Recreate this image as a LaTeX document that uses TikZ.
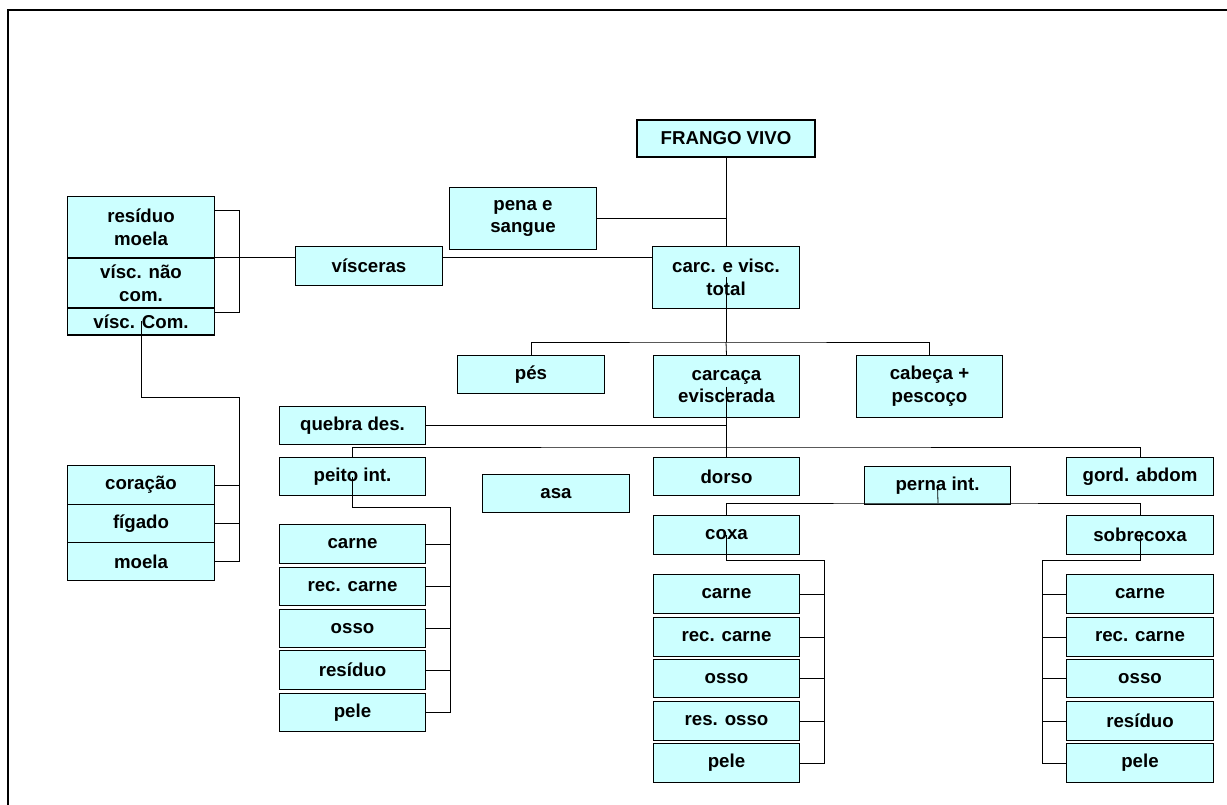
\documentclass[tikz,border=0pt]{standalone}
\usepackage{fontspec}
\setmainfont{Liberation Sans}
\definecolor{ciano}{HTML}{CCFFFF}

\begin{document}
\begin{tikzpicture}[x=0.75pt,y=-0.75pt,
  caixa/.style={draw=black,line width=0.8pt,fill=ciano,font=\bfseries\fontsize{14}{17}\selectfont,align=center,inner sep=0pt,minimum width=110pt,minimum height=29pt},
  dupla/.style={caixa,minimum height=46.5pt},
  liga/.style={black,line width=0.6pt}]

\useasboundingbox (0,0) rectangle (1227,805);
\draw[line width=1.8pt] (8,805) -- (8,10) -- (1227,10);

\node[caixa,minimum width=133.5pt,minimum height=27.75pt] (frango) at (726,138.5) {FRANGO VIVO};
\node[dupla] (pena) at (523,218.5) {pena e\\sangue};
\node[dupla] (carc) at (726,277.5) {carc. e visc.\\total};
\node[caixa] (visceras) at (369,266) {vísceras};

\node[dupla] (residuo) at (141,227.5) {resíduo\\moela};
\node[caixa,minimum height=37.5pt] (vnaocom) at (141,283) {vísc. não\\com.};
\node[caixa,minimum height=20.25pt] (vcom) at (141,321.5) {vísc. Com.};

\node[caixa] (coracao) at (141,485) {coração};
\node[caixa] (figado) at (141,523.5) {fígado};
\node[caixa] (moela) at (141,561.5) {moela};

\node[caixa] (pes) at (531,374.5) {pés};
\node[dupla] (carcaca) at (726.5,386.5) {carcaça\\eviscerada};
\node[dupla] (cabeca) at (929.5,386.5) {cabeça +\\pescoço};

\node[caixa] (quebra) at (352.5,425.5) {quebra des.};
\node[caixa] (peito) at (352.5,476.5) {peito int.};
\node[caixa] (asa) at (556,493.5) {asa};
\node[caixa] (dorso) at (726.5,476.5) {dorso};
\node[caixa] (perna) at (937.5,485.5) {perna int.};
\node[caixa] (gord) at (1140,476.5) {gord. abdom};
\node[caixa] (coxa) at (726.5,535) {coxa};
\node[caixa] (sobrecoxa) at (1140,535) {sobrecoxa};

\node[caixa] (pcarne) at (352.5,544) {carne};
\node[caixa] (preccarne) at (352.5,586.5) {rec. carne};
\node[caixa] (posso) at (352.5,628.5) {osso};
\node[caixa] (presiduo) at (352.5,670) {resíduo};
\node[caixa] (ppele) at (352.5,712.5) {pele};

\node[caixa] (ccarne) at (726.5,594) {carne};
\node[caixa] (creccarne) at (726.5,637) {rec. carne};
\node[caixa] (cosso) at (726.5,678.5) {osso};
\node[caixa] (cresosso) at (726.5,721) {res. osso};
\node[caixa] (cpele) at (726.5,763) {pele};

\node[caixa] (scarne) at (1140,594) {carne};
\node[caixa] (sreccarne) at (1140,637) {rec. carne};
\node[caixa] (sosso) at (1140,678.5) {osso};
\node[caixa] (sresiduo) at (1140,721) {resíduo};
\node[caixa] (spele) at (1140,763) {pele};

\coordinate (colchete) at (239,312);
\coordinate (barra1) at (726,342);
\coordinate (barra2) at (726,447);
\coordinate (barra3) at (938,503);
\coordinate (dobra1) at (239,397);
\coordinate (dobra2) at (450,507);
\coordinate (dobra3) at (824,560);
\coordinate (dobra4) at (1042,560);

\draw[liga] (frango.south) -- (carc.north);
\draw[liga] (pena.east) -- (pena.east -| frango.south);
\draw[liga] (vnaocom.north east) -- (visceras.west |- vnaocom.north east);
\draw[liga] (visceras.east |- vnaocom.north east) -- (carc.west |- vnaocom.north east);
\draw[liga] ([yshift=-10.5pt]residuo.north east) -| (colchete) -- (colchete -| vcom.east);

\draw[liga] (vcom.center) |- (dobra1) |- (moela.east);
\draw[liga] (coracao.east) -- (coracao.east -| dobra1);
\draw[liga] (figado.east) -- (figado.east -| dobra1);

\draw[liga] (carc.center) -- (barra1);
\draw[liga] (pes.north) |- (barra1) -| (cabeca.north);
\draw[liga] (barra1) -- (carcaca.north);
\draw[liga] (carcaca.center) -- (dorso.north);
\draw[liga] (quebra.east) -- (quebra.east -| carcaca.center);
\draw[liga] (peito.north) |- (barra2) -| (gord.north);
\draw[liga] (perna.center) -- (barra3);
\draw[liga] (coxa.north) |- (barra3) -| (sobrecoxa.north);

\draw[liga] (peito.center) |- (dobra2) |- (ppele.east);
\draw[liga] (pcarne.east) -- (pcarne.east -| dobra2);
\draw[liga] (preccarne.east) -- (preccarne.east -| dobra2);
\draw[liga] (posso.east) -- (posso.east -| dobra2);
\draw[liga] (presiduo.east) -- (presiduo.east -| dobra2);

\draw[liga] (coxa.center) |- (dobra3) |- (cpele.east);
\draw[liga] (ccarne.east) -- (ccarne.east -| dobra3);
\draw[liga] (creccarne.east) -- (creccarne.east -| dobra3);
\draw[liga] (cosso.east) -- (cosso.east -| dobra3);
\draw[liga] (cresosso.east) -- (cresosso.east -| dobra3);

\draw[liga] (sobrecoxa.center) |- (dobra4) |- (spele.west);
\draw[liga] (scarne.west) -- (scarne.west -| dobra4);
\draw[liga] (sreccarne.west) -- (sreccarne.west -| dobra4);
\draw[liga] (sosso.west) -- (sosso.west -| dobra4);
\draw[liga] (sresiduo.west) -- (sresiduo.west -| dobra4);

\end{tikzpicture}
\end{document}
